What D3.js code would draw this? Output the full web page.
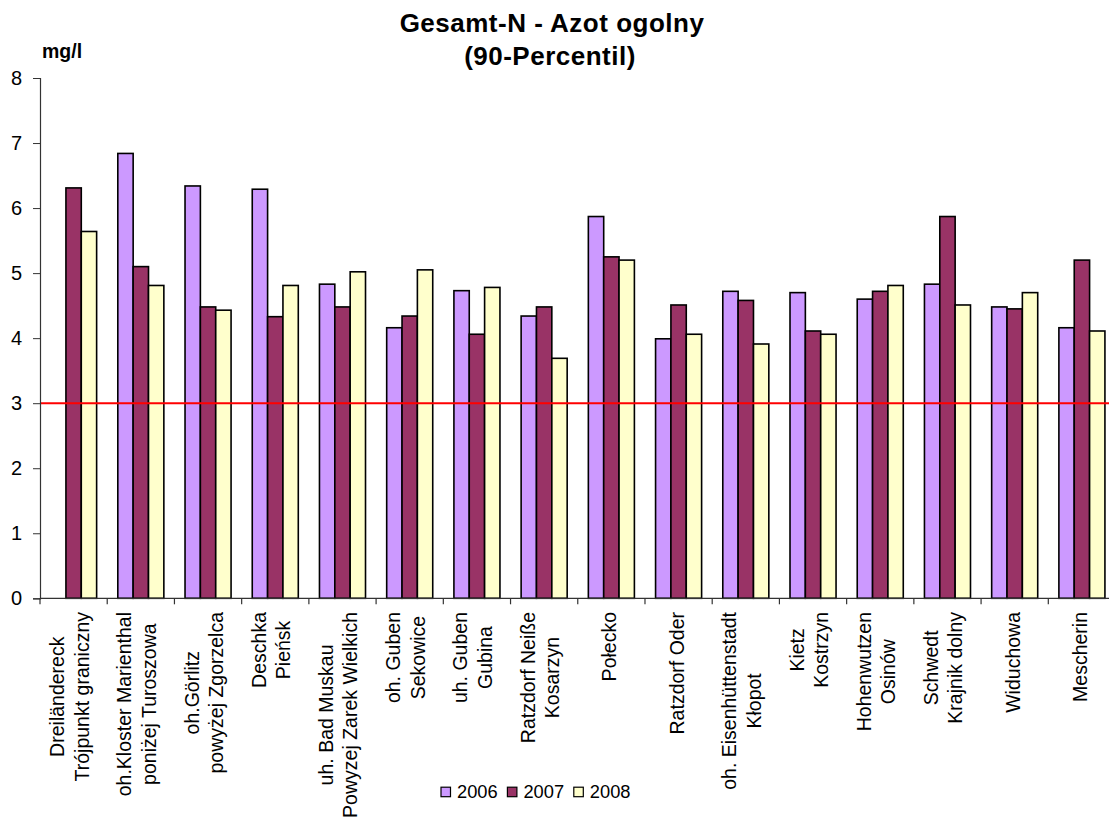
<!DOCTYPE html>
<html>
<head>
<meta charset="utf-8">
<script src="https://cdn.jsdelivr.net/npm/d3@7"></script>
<style>
  html, body { margin: 0; padding: 0; background: #ffffff; }
  svg { display: block; font-family: "Liberation Sans", Arial, sans-serif; }
</style>
</head>
<body>
<svg id="chart" width="1109" height="821"></svg>
<script>
// Measuring stations (line breaks marked with "|")
const stations = [
  "Dreiländereck|Trójpunkt graniczny",
  "oh.Kloster Marienthal|poniżej Turoszowa",
  "oh.Görlitz|powyżej Zgorzelca",
  "Deschka|Pieńsk",
  "uh. Bad Muskau|Powyzej Zarek Wielkich",
  "oh. Guben|Sekowice",
  "uh. Guben|Gubina",
  "Ratzdorf Neiße|Kosarzyn",
  "Połecko",
  "Ratzdorf Oder",
  "oh. Eisenhüttenstadt|Kłopot",
  "Kietz|Kostrzyn",
  "Hohenwutzen|Osinów",
  "Schwedt|Krajnik dolny",
  "Widuchowa",
  "Mescherin"
];

const years = ["2006", "2007", "2008"];

// Total nitrogen, 90th percentile, mg/l
const values2006 = [null, 6.84, 6.34, 6.29, 4.83, 4.16, 4.73, 4.34, 5.87, 3.99, 4.72, 4.70, 4.60, 4.83, 4.48, 4.16];
const values2007 = [6.31, 5.10, 4.48, 4.33, 4.48, 4.34, 4.06, 4.48, 5.25, 4.51, 4.58, 4.11, 4.72, 5.87, 4.45, 5.20];
const values2008 = [5.64, 4.81, 4.43, 4.81, 5.02, 5.05, 4.78, 3.69, 5.20, 4.06, 3.91, 4.06, 4.81, 4.51, 4.70, 4.11];

const yTicks = [0, 1, 2, 3, 4, 5, 6, 7, 8];
const limitValue = 3;

const titleLines = ["Gesamt-N - Azot ogolny", "(90-Percentil)"];
const unitLabel = "mg/l";

const colors = { "2006": "#CC99FF", "2007": "#993366", "2008": "#FFFFCC" };
const seriesValues = { "2006": values2006, "2007": values2007, "2008": values2008 };

const svg = d3.select("#chart");

const plotLeft = 40, plotTop = 78, plotBottom = 598.3, step = 67.22;
const plotRight = plotLeft + step * stations.length;

const x = d3.scaleBand().domain(stations).range([plotLeft, plotRight]).padding(0);
const xs = d3.scaleBand().domain(years).range([0, x.bandwidth()]).paddingOuter(0.69);
const y = d3.scaleLinear().domain([0, 8]).range([plotBottom, plotTop]);

// Bars
const rows = [];
stations.forEach((s, i) => {
  years.forEach(yr => {
    const v = seriesValues[yr][i];
    if (v != null) rows.push({ station: s, year: yr, value: v });
  });
});

svg.append("g").selectAll("rect")
  .data(rows)
  .join("rect")
  .attr("x", d => x(d.station) + xs(d.year))
  .attr("y", d => y(d.value))
  .attr("width", xs.bandwidth())
  .attr("height", d => y(0) - y(d.value))
  .attr("fill", d => colors[d.year])
  .attr("stroke", "#000")
  .attr("stroke-width", 1.6);

// Limit line
svg.append("line")
  .attr("x1", plotLeft).attr("x2", 1109)
  .attr("y1", y(limitValue)).attr("y2", y(limitValue))
  .attr("stroke", "#FF0000").attr("stroke-width", 2);

// Y axis
const yAxis = svg.append("g")
  .attr("transform", `translate(${plotLeft},0)`)
  .call(d3.axisLeft(y).tickValues(yTicks).tickFormat(d3.format("d")).tickSizeOuter(0).tickSize(7).tickPadding(11));
yAxis.select(".domain").attr("stroke", "#333").attr("stroke-width", 1.2);
yAxis.selectAll(".tick line").attr("stroke", "#333");
yAxis.selectAll(".tick text")
  .attr("font-size", 20)
  .attr("font-family", "Liberation Sans, Arial, sans-serif")
  .attr("fill", "#000");

// X axis line and boundary ticks
svg.append("line")
  .attr("x1", plotLeft).attr("x2", 1109)
  .attr("y1", y(0)).attr("y2", y(0))
  .attr("stroke", "#333").attr("stroke-width", 1.2);

const boundaries = stations.map(s => x(s)).concat([plotRight]);
svg.append("g").selectAll("line")
  .data(boundaries)
  .join("line")
  .attr("x1", d => d).attr("x2", d => d)
  .attr("y1", y(0)).attr("y2", y(0) + 6)
  .attr("stroke", "#333").attr("stroke-width", 1.2);

// Rotated category labels
const labelFont = 19.5;
const labelTop = 612;
const lineGap = 24.5;
const labelG = svg.append("g")
  .attr("font-size", labelFont)
  .attr("fill", "#000");

stations.forEach(s => {
  const lines = s.split("|");
  const cx = x(s) + x.bandwidth() / 2;
  const n = lines.length;
  const g = labelG.append("g");
  const texts = lines.map(t => g.append("text").text(t).attr("text-anchor", "middle"));
  const maxLen = d3.max(texts, t => t.node().getComputedTextLength());
  const cy = labelTop + maxLen / 2;
  const shift = n === 1 ? 5 : 2.75;
  texts.forEach((t, i) => {
    const bx = cx + shift + (i - (n - 1) / 2) * lineGap;
    t.attr("transform", `translate(${bx},${cy}) rotate(-90)`);
  });
});

// Title
const title = svg.append("text")
  .attr("text-anchor", "middle")
  .attr("font-weight", "bold")
  .attr("font-size", 26)
  .attr("letter-spacing", 0.5)
  .attr("fill", "#000");
title.append("tspan").attr("x", 552).attr("y", 32).text(titleLines[0]);
title.append("tspan").attr("x", 550).attr("y", 65).text(titleLines[1]);

// Unit label
svg.append("text")
  .attr("x", 42).attr("y", 58)
  .attr("font-weight", "bold")
  .attr("font-size", 19.5)
  .attr("fill", "#000")
  .text(unitLabel);

// Legend
const legend = svg.append("g").attr("transform", "translate(441,792)");
const item = legend.selectAll("g")
  .data(years)
  .join("g")
  .attr("transform", (d, i) => `translate(${i * 66.4},0)`);
item.append("rect")
  .attr("x", 0).attr("y", -4.8)
  .attr("width", 9.5).attr("height", 9.5)
  .attr("fill", d => colors[d])
  .attr("stroke", "#000").attr("stroke-width", 1.2);
item.append("text")
  .attr("x", 16).attr("y", 6)
  .attr("font-size", 18.3)
  .attr("fill", "#000")
  .text(d => d);
</script>
</body>
</html>
